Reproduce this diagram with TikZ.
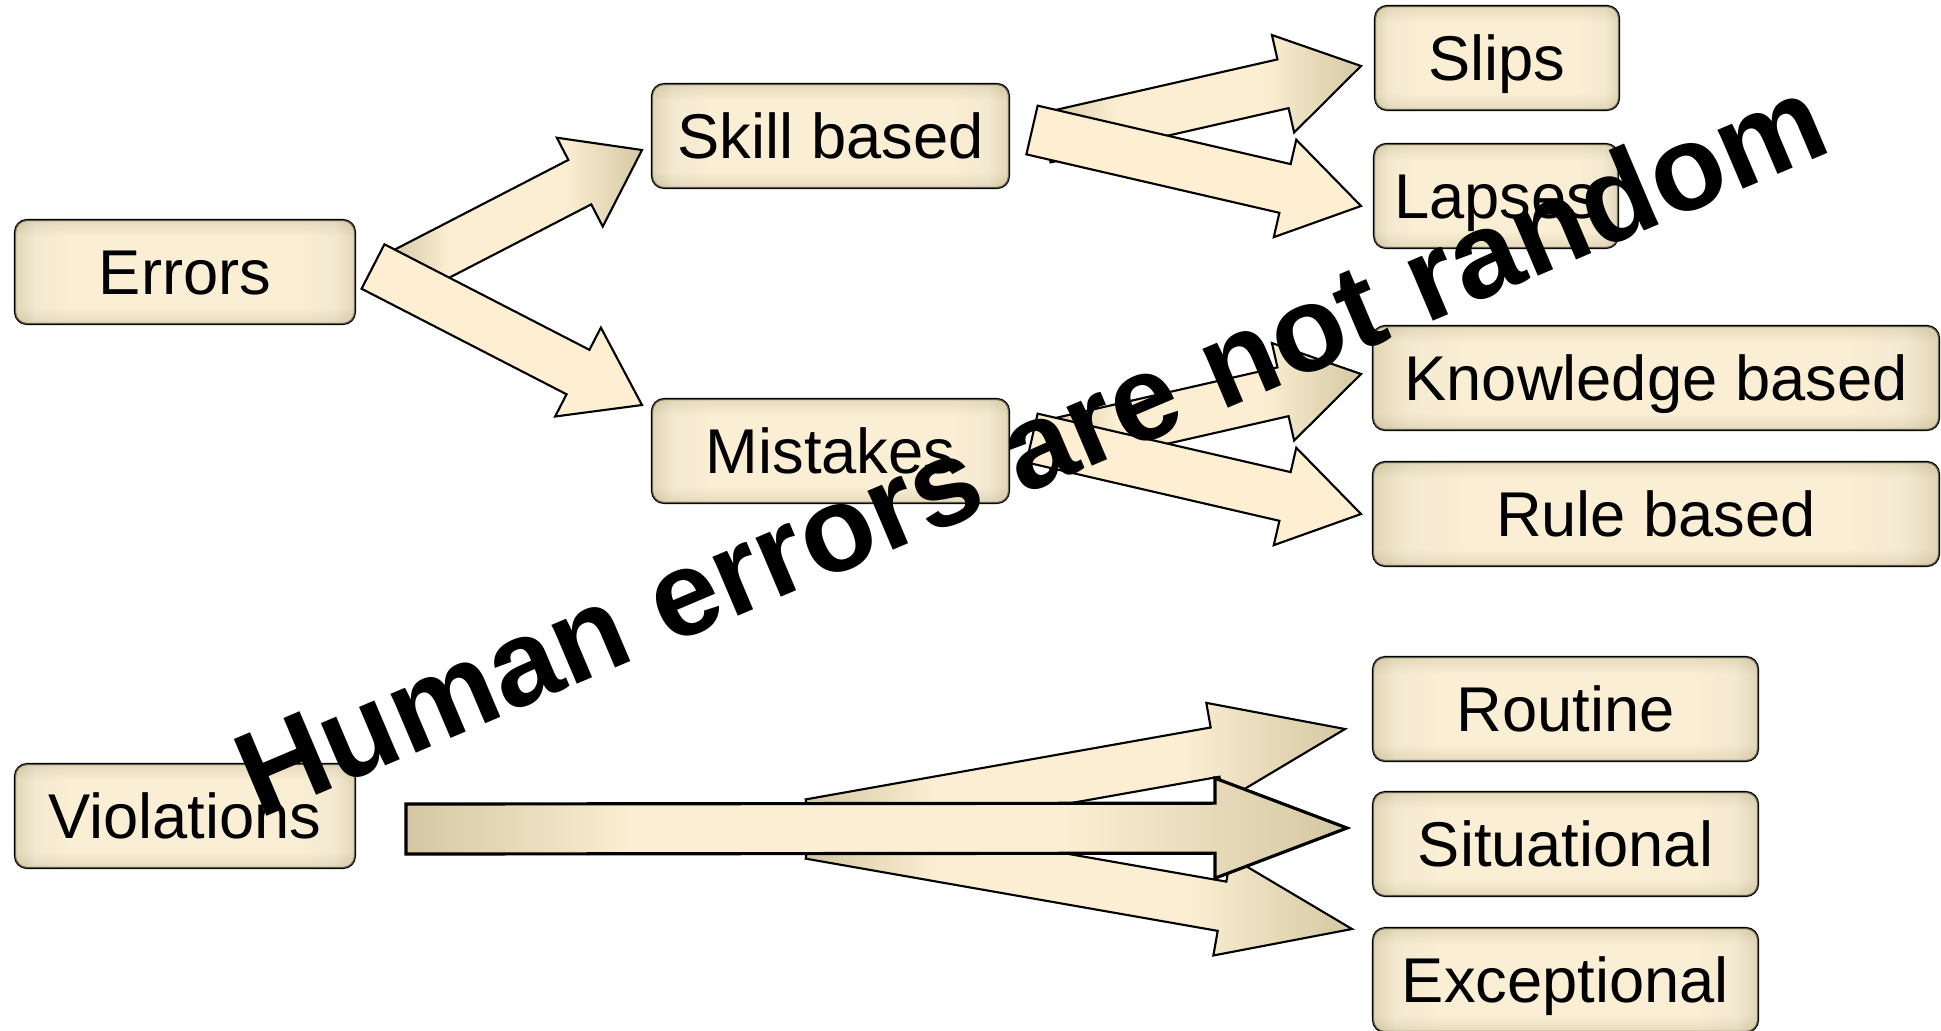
\documentclass[tikz,border=0pt]{standalone}
\usepackage{fontspec}
\setmainfont{Liberation Sans}
\usetikzlibrary{calc}

\definecolor{boxedge}{RGB}{208,196,158}
\definecolor{boxlight}{RGB}{238,230,208}
\definecolor{boxmid}{RGB}{250,238,212}
\definecolor{arrowflat}{RGB}{254,238,210}
\definecolor{arrowtan}{RGB}{212,200,163}
\definecolor{arrowcream}{RGB}{251,238,210}

\pgfdeclarehorizontalshading{boxshade}{100bp}{color(0bp)=(boxedge); color(25bp)=(boxedge); color(28bp)=(boxlight); color(33bp)=(boxmid); color(67bp)=(boxmid); color(72bp)=(boxlight); color(75bp)=(boxedge); color(100bp)=(boxedge)}
\pgfdeclareverticalshading{boxtop}{100bp}{color(0bp)=(boxedge); color(25bp)=(boxedge); color(33bp)=(boxmid); color(67bp)=(boxmid); color(75bp)=(boxedge); color(100bp)=(boxedge)}
\pgfdeclarehorizontalshading{arrowshade}{100bp}{color(0bp)=(arrowtan); color(25bp)=(arrowtan); color(37bp)=(arrowcream); color(60bp)=(arrowcream); color(75bp)=(arrowtan); color(100bp)=(arrowtan)}

% block arrow: [style]{tail}{tip}{head length}
\newcommand{\bigarrow}[4][]{%
  \coordinate (ah) at ($(#3)!#4!(#2)$);
  \draw[blockarrow,#1] ($(#2)!0.25cm!90:(#3)$) -- ($(ah)!0.25cm!-90:(#2)$) -- ($(ah)!0.50cm!-90:(#2)$) -- (#3)
    -- ($(ah)!0.50cm!90:(#2)$) -- ($(ah)!0.25cm!90:(#2)$) -- ($(#2)!0.25cm!-90:(#3)$) -- cycle;
}

\tikzset{
  box/.style={draw, rounded corners=0.12cm, line width=0.6pt, shade, shading=boxshade,
    postaction={shade, shading=boxtop, fill opacity=0.45},
    minimum height=1.04cm, inner sep=0pt, text height=0.55cm, text depth=0.10cm,
    font=\fontsize{18}{20}\selectfont},
  blockarrow/.style={draw, line width=0.6pt, line join=miter},
  plainarrow/.style={blockarrow, fill=arrowflat},
  shadedarrow/.style={blockarrow, shade, shading=arrowshade},
}

\begin{document}
\begin{tikzpicture}
\useasboundingbox (0,0) rectangle (19.41,-10.30);

\node[box, minimum width=3.40cm] (errors) at (1.85,-2.72) {Errors};
\node[box, minimum width=3.57cm] (skill) at (8.305,-1.36) {Skill based};
\node[box, minimum width=3.57cm] (mistakes) at (8.305,-4.51) {Mistakes};
\node[box, minimum width=2.44cm] (slips) at (14.97,-0.58) {Slips};
\node[box, minimum width=2.44cm] (lapses) at (14.96,-1.96) {Lapses};
\node[box, minimum width=5.66cm] (knowledge) at (16.56,-3.78) {Knowledge based};
\node[box, minimum width=5.66cm] (rule) at (16.56,-5.14) {Rule based};
\node[box, minimum width=3.85cm] (routine) at (15.655,-7.09) {Routine};
\node[box, minimum width=3.85cm] (situational) at (15.655,-8.44) {Situational};
\node[box, minimum width=3.85cm] (exceptional) at (15.655,-9.80) {Exceptional};
\node[box, minimum width=3.40cm] (violations) at (1.85,-8.16) {Violations};

% tails and tips
\coordinate (errup) at (4.00,-2.75);
\coordinate (errdown) at (3.73,-2.665);
\coordinate (skilltip) at (6.42,-1.50);
\coordinate (mistip) at (6.42,-4.05);
\coordinate (skillup) at (10.45,-1.38);
\coordinate (skilldown) at (10.32,-1.30);
\coordinate (slipstip) at (13.61,-0.66);
\coordinate (lapsestip) at (13.61,-2.06);
\coordinate (misup) at (10.45,-4.46);
\coordinate (misdown) at (10.32,-4.38);
\coordinate (knowtip) at (13.61,-3.74);
\coordinate (ruletip) at (13.61,-5.14);
\coordinate (violup) at (8.10,-8.24);
\coordinate (violdown) at (8.10,-8.34);
\coordinate (violtail) at (4.06,-8.29);
\coordinate (routinetip) at (13.45,-7.29);
\coordinate (situtip) at (13.47,-8.28);
\coordinate (excetip) at (13.52,-9.29);

\bigarrow[shadedarrow]{errup}{skilltip}{0.70cm}
\bigarrow[plainarrow]{errdown}{mistip}{0.72cm}
\bigarrow[shadedarrow]{skillup}{slipstip}{0.80cm}
\bigarrow[plainarrow]{skilldown}{lapsestip}{0.78cm}
\bigarrow[shadedarrow]{misup}{knowtip}{0.80cm}
\bigarrow[plainarrow]{misdown}{ruletip}{0.78cm}
\bigarrow[shadedarrow]{violup}{routinetip}{1.32cm}
\bigarrow[shadedarrow]{violdown}{excetip}{1.32cm}
\bigarrow[shadedarrow, line width=0.9pt]{violtail}{situtip}{1.32cm}

\node[rotate=23, font=\bfseries\fontsize{34.5}{40}\selectfont] (slogan) at (10.30,-4.45) {Human errors are not random};
\end{tikzpicture}
\end{document}
